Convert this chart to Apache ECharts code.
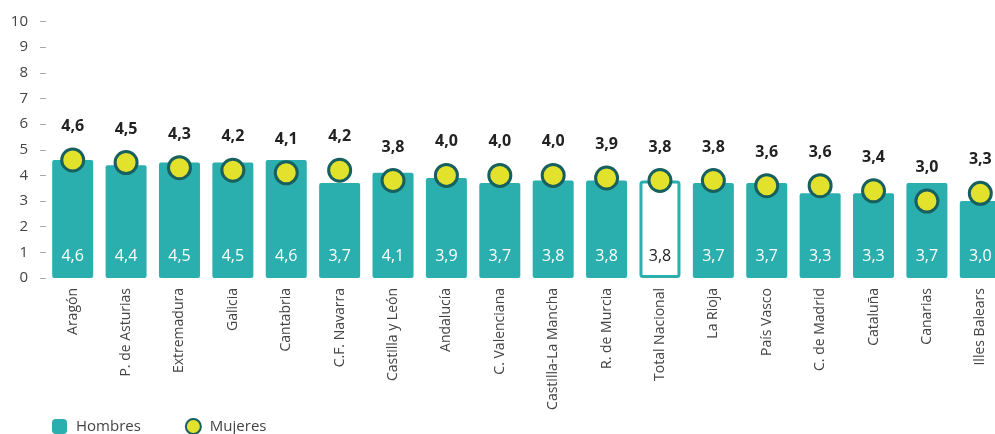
<!DOCTYPE html>
<html>
<head>
<meta charset="utf-8">
<script src="https://cdn.jsdelivr.net/npm/echarts@6/dist/echarts.min.js"></script>
<style>
  html, body { margin: 0; padding: 0; background: #fff; }
  #container { width: 995px; height: 434px; }
</style>
</head>
<body>
<div id="container"></div>
<script>
  const regiones = ['Aragón', 'P. de Asturias', 'Extremadura', 'Galicia', 'Cantabria', 'C.F. Navarra',
    'Castilla y León', 'Andalucía', 'C. Valenciana', 'Castilla-La Mancha', 'R. de Murcia', 'Total Nacional',
    'La Rioja', 'País Vasco', 'C. de Madrid', 'Cataluña', 'Canarias', 'Illes Balears']
  const hombres = [4.6, 4.4, 4.5, 4.5, 4.6, 3.7, 4.1, 3.9, 3.7, 3.8, 3.8, 3.8, 3.7, 3.7, 3.3, 3.3, 3.7, 3.0]
  const mujeres = [4.6, 4.5, 4.3, 4.2, 4.1, 4.2, 3.8, 4.0, 4.0, 4.0, 3.9, 3.8, 3.8, 3.6, 3.6, 3.4, 3.0, 3.3]
  const yTicks = [0, 1, 2, 3, 4, 5, 6, 7, 8, 9, 10]

  const teal = '#2aaeae'
  const font = 'Open Sans'
  const fmt = v => v.toFixed(1).replace('.', ',')

  const barData = hombres.map((v, i) => {
    if (regiones[i] === 'Total Nacional') {
      return {
        value: v,
        itemStyle: { color: '#fff', borderColor: teal, borderWidth: 3 },
        label: { color: '#222' }
      }
    }
    return v
  })

  const myChart = echarts.init(document.getElementById('container'))
  myChart.setOption({
    animation: false,
    textStyle: { fontFamily: font },
    legend: {
      left: 47,
      top: 413,
      itemWidth: 15,
      itemHeight: 15,
      itemGap: 44,
      textStyle: { fontSize: 15, color: '#444', fontFamily: font, padding: [0, 0, 0, 4] },
      data: ['Hombres', 'Mujeres']
    },
    grid: { left: 46, width: 961, top: 21.5, bottom: 156, outerBoundsMode: 'none' },
    xAxis: {
      type: 'category',
      data: regiones,
      axisLine: { show: false },
      axisTick: { show: false },
      axisLabel: { rotate: 90, margin: 10, fontSize: 14, color: '#444', fontFamily: font, interval: 0 }
    },
    yAxis: {
      type: 'value',
      min: yTicks[0],
      max: yTicks[yTicks.length - 1],
      interval: 1,
      splitLine: { show: false },
      axisLine: { show: false },
      axisTick: { show: true, length: 6, lineStyle: { color: '#aaa' } },
      axisLabel: { margin: 18, fontSize: 15, color: '#444', fontFamily: font }
    },
    series: [{
      name: 'Hombres',
      type: 'bar',
      barWidth: 41,
      itemStyle: { color: teal, borderRadius: 2 },
      label: {
        show: true,
        position: 'insideBottom',
        distance: 14,
        color: '#fff',
        fontSize: 16,
        fontFamily: font,
        formatter: p => fmt(p.value)
      },
      data: barData
    }, {
      name: 'Mujeres',
      type: 'scatter',
      symbol: 'circle',
      symbolSize: 22,
      z: 5,
      itemStyle: { color: '#e2e12c', borderColor: '#17605f', borderWidth: 3, opacity: 1 },
      label: {
        show: true,
        position: 'top',
        distance: 13,
        color: '#222',
        fontSize: 16,
        fontWeight: 'bold',
        fontFamily: font,
        formatter: p => fmt(p.value)
      },
      data: mujeres
    }]
  })
</script>
</body>
</html>
